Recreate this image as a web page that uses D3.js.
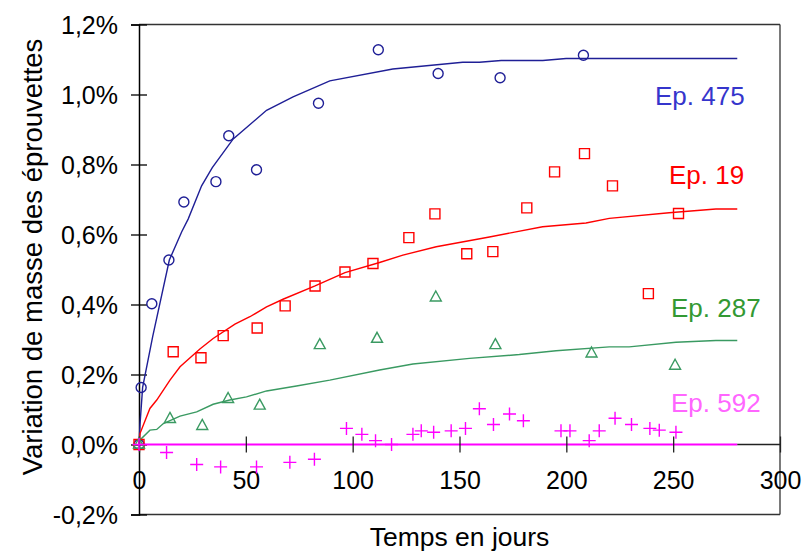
<!DOCTYPE html>
<html><head><meta charset="utf-8">
<script src="https://cdn.jsdelivr.net/npm/d3@7"></script>
<style>body{margin:0;background:#fff}svg{display:block}text{font-family:"Liberation Sans",Arial,sans-serif}</style>
</head><body>
<svg id="c" width="803" height="553"></svg>
<script>
const xTicks = [0, 50, 100, 150, 200, 250, 300];
const yTicks = [-0.2, 0, 0.2, 0.4, 0.6, 0.8, 1.0, 1.2];
const yTickLabels = ["-0,2%", "0,0%", "0,2%", "0,4%", "0,6%", "0,8%", "1,0%", "1,2%"];
const xTitle = "Temps en jours";
const yTitle = "Variation de masse des éprouvettes";

const days475 = [0, 1, 6, 14, 21, 36, 42, 55, 84, 112, 140, 169, 208];
const val475 = [0, 0.163, 0.402, 0.527, 0.693, 0.751, 0.882, 0.785, 0.975, 1.128, 1.060, 1.048, 1.112];
const fit475Days = [0, 0.5, 1.7, 6.4, 14.2, 20, 23, 29.3, 34.3, 44.1, 59.7, 72.1, 89.3, 118.8, 151.5, 159.3, 169.5, 189, 199.9, 280];
const fit475 = [0, 0.06, 0.163, 0.308, 0.527, 0.608, 0.644, 0.739, 0.791, 0.873, 0.955, 0.993, 1.039, 1.073, 1.092, 1.092, 1.097, 1.097, 1.103, 1.103];

const days19 = [0, 16, 29, 39.4, 55.3, 68.4, 82.4, 96.4, 109.5, 126.3, 138.5, 153.4, 165.6, 181.5, 194.5, 208.5, 221.6, 238.4, 252.5];
const val19 = [0, 0.265, 0.248, 0.311, 0.333, 0.396, 0.453, 0.493, 0.517, 0.591, 0.659, 0.545, 0.551, 0.676, 0.779, 0.831, 0.739, 0.431, 0.660];
const fit19Days = [0, 0.5, 5.1, 8.3, 14.5, 19.2, 28.5, 34.7, 44.9, 51.9, 59.7, 67.4, 82.4, 96.4, 112.6, 123.5, 139.1, 164, 188.9, 209.2, 220.1, 248.1, 270, 280];
const fit19 = [0, 0.032, 0.103, 0.127, 0.184, 0.222, 0.273, 0.303, 0.344, 0.365, 0.393, 0.415, 0.453, 0.491, 0.520, 0.541, 0.565, 0.593, 0.622, 0.633, 0.646, 0.662, 0.673, 0.673];

const days287 = [0, 14.5, 29.6, 41.7, 56.5, 84.6, 111.4, 138.9, 166.8, 211.8, 250.9];
const val287 = [0, 0.073, 0.053, 0.130, 0.111, 0.284, 0.302, 0.420, 0.284, 0.260, 0.225];
const fit287Days = [0, 0.5, 5.1, 8.3, 11.4, 19.2, 27, 34.7, 42.5, 50.3, 59.7, 73.7, 89.3, 112.6, 128.2, 154.7, 178, 195.2, 220.1, 229.4, 251.3, 270, 280];
const fit287 = [0, 0.013, 0.041, 0.043, 0.060, 0.081, 0.093, 0.115, 0.127, 0.136, 0.153, 0.167, 0.184, 0.213, 0.230, 0.246, 0.257, 0.268, 0.279, 0.279, 0.292, 0.297, 0.297];

const days592 = [0, 12.9, 27, 38.2, 55, 70.6, 82.1, 97.1, 104.3, 110.7, 118.2, 128.2, 132.1, 137.9, 146.1, 152.8, 159.3, 165.9, 173.4, 179.9, 197.5, 201.7, 210.7, 215.4, 222.8, 230.5, 239.1, 243.5, 251.3];
const val592 = [0, -0.023, -0.057, -0.064, -0.064, -0.051, -0.042, 0.046, 0.029, 0.011, 0.0, 0.029, 0.039, 0.035, 0.039, 0.046, 0.102, 0.057, 0.087, 0.068, 0.039, 0.039, 0.011, 0.039, 0.075, 0.057, 0.046, 0.041, 0.035];
const fit592Days = [0, 280];
const fit592 = [0, 0];

const seriesNames = ["Ep. 475", "Ep. 19", "Ep. 287", "Ep. 592"];
const markerColors = ["#1f1f96", "#ff0000", "#3a9a62", "#ff00ff"];
const labelColors = ["#3535cc", "#ff0000", "#339933", "#ff66ff"];

const svg = d3.select("#c");
const x = d3.scaleLinear().domain([0, 300]).range([139, 780]);
const y = d3.scaleLinear().domain([-0.2, 1.2]).range([514.5, 24.5]);

// frame
const frame = svg.append("g").attr("stroke", "#333").attr("stroke-width", 1.3).attr("fill", "none");
frame.append("line").attr("x1", x(0)).attr("x2", x(300)).attr("y1", y(1.2)).attr("y2", y(1.2));
frame.append("line").attr("x1", x(300)).attr("x2", x(300)).attr("y1", y(1.2)).attr("y2", y(-0.2));
frame.append("line").attr("x1", x(0)).attr("x2", x(300)).attr("y1", y(-0.2)).attr("y2", y(-0.2));

// y axis
const yAxis = svg.append("g").attr("transform", `translate(${x(0)},0)`)
  .call(d3.axisLeft(y).tickValues(yTicks).tickSize(8).tickPadding(13).tickFormat((d, i) => yTickLabels[i]));
yAxis.select(".domain").attr("stroke", "#000").attr("stroke-width", 1.5);
yAxis.selectAll(".tick line").attr("x1", 8).attr("x2", -8).attr("stroke", "#000").attr("stroke-width", 1.3);
yAxis.selectAll(".tick text").attr("font-size", 25).attr("fill", "#000").attr("dy", "0.35em")
  .style("font-family", "'Liberation Sans', Arial, sans-serif");

const data = [
  {d: days475, v: val475, fd: fit475Days, fv: fit475, shape: "circle"},
  {d: days19, v: val19, fd: fit19Days, fv: fit19, shape: "square"},
  {d: days287, v: val287, fd: fit287Days, fv: fit287, shape: "triangle"},
  {d: days592, v: val592, fd: fit592Days, fv: fit592, shape: "plus"}
];

const line = d3.line().x(p => x(p[0])).y(p => y(p[1]));

// fitted lines
data.forEach((s, i) => {
  svg.append("path").datum(s.fd.map((d, j) => [d, s.fv[j]]))
    .attr("d", line).attr("fill", "none").attr("stroke", markerColors[i])
    .attr("stroke-width", i === 3 ? 2 : 1.4);
});

// x axis (at 0)
const xAxis = svg.append("g").attr("transform", `translate(0,${y(0)})`)
  .call(d3.axisBottom(x).tickValues(xTicks).tickSize(8).tickPadding(19));
xAxis.select(".domain").remove();
xAxis.append("line").attr("x1", x(280)).attr("x2", x(300)).attr("stroke", "#222").attr("stroke-width", 1.3);
xAxis.selectAll(".tick line").attr("y1", -8).attr("y2", 8).attr("stroke", "#222").attr("stroke-width", 1.3);
xAxis.selectAll(".tick text").attr("font-size", 25).attr("fill", "#000")
  .style("font-family", "'Liberation Sans', Arial, sans-serif");

// markers
const markerPath = {
  circle: d3.symbol().type(d3.symbolCircle).size(Math.PI * 25)(),
  square: "M-5,-5H5V5H-5Z",
  triangle: "M0,-6.5L5.5,3.5H-5.5Z",
  plus: "M-6.5,0H6.5M0,-6.5V6.5"
};
data.forEach((s, i) => {
  svg.append("g").selectAll("path").data(s.d.map((d, j) => [d, s.v[j]])).join("path")
    .attr("transform", p => `translate(${x(p[0])},${y(p[1])})`)
    .attr("d", markerPath[s.shape]).attr("fill", "none")
    .attr("stroke", markerColors[i]).attr("stroke-width", 1.4);
});

// series labels
const labelPos = [[655, 105], [669, 184], [671, 317], [671, 412]];
seriesNames.forEach((n, i) => {
  svg.append("text").attr("x", labelPos[i][0]).attr("y", labelPos[i][1])
    .attr("font-size", 26).attr("fill", labelColors[i]).text(n);
});

// titles
svg.append("text").attr("x", (x(0) + x(300)) / 2).attr("y", 546).attr("text-anchor", "middle")
  .attr("font-size", 26.5).attr("fill", "#000").text(xTitle);
svg.append("text").attr("transform", "translate(42,257) rotate(-90)").attr("text-anchor", "middle")
  .attr("font-size", 27.5).attr("fill", "#000").text(yTitle);
</script>
</body></html>
